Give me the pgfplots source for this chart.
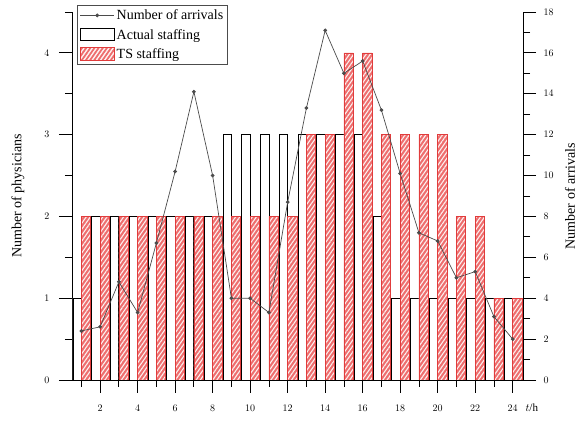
\documentclass[border=0pt]{standalone}
\usepackage{fontspec}
\setmainfont{Liberation Serif}
\usepackage{pgfplots}
\usepackage{pgfplotstable}
\pgfplotsset{compat=1.18}
\usetikzlibrary{patterns.meta}

\definecolor{tsred}{RGB}{225,60,60}
\definecolor{tsfill}{RGB}{238,110,110}
\definecolor{arrgray}{RGB}{75,75,75}

\pgfplotstableread{
h actual ts arrivals
1 1 2 2.4
2 2 2 2.6
3 2 2 4.8
4 2 2 3.3
5 2 2 6.7
6 2 2 10.2
7 2 2 14.1
8 2 2 10.0
9 3 2 4.0
10 3 2 4.0
11 3 2 3.3
12 3 2 8.7
13 3 3 13.3
14 3 3 17.1
15 3 4 15.0
16 3 4 15.6
17 2 3 13.2
18 1 3 10.1
19 1 3 7.2
20 1 3 6.8
21 1 2 5.0
22 1 2 5.3
23 1 1 3.1
24 1 1 2.0
}\datatable

\tikzset{
  tshatch/.style={draw=tsred, fill=tsfill, line width=0.7pt,
    postaction={pattern={Lines[angle=55, distance=3.4pt, line width=1.1pt]}, pattern color=white!90!tsfill}},
}
\pgfplotsset{
  common/.style={
    scale only axis,
    width=451pt, height=368pt,
    xmin=0.5, xmax=24.55,
    every tick/.style={black, line width=0.8pt},
    every minor tick/.style={black, line width=0.8pt},
    axis line style={black, line width=0.8pt},
    tick label style={font=\fontsize{10}{12}\selectfont},
    label style={font=\fontsize{14}{16}\selectfont},
  },
  ticks out/.style={
    tick align=outside,
    major tick length=13pt,
    minor tick length=7pt,
  },
  arrlegend/.style={legend image code/.code={
    \draw[arrgray, line width=0.7pt] (0pt,0pt) -- (34pt,0pt);
    \fill[arrgray] (17pt,0pt) circle[radius=1.6pt];}},
  actlegend/.style={legend image code/.code={\draw[draw=black, fill=white, line width=0.9pt] (0pt,-6pt) rectangle (34pt,6.5pt);}},
  tslegend/.style={legend image code/.code={\draw[tshatch] (0pt,-6pt) rectangle (34pt,6.5pt);}},
}

\begin{document}
\begin{tikzpicture}
\begin{axis}[
  common,
  name=ax,
  ybar,
  ymin=0, ymax=4.5,
  axis x line*=bottom,
  axis y line*=left,
  ticks out,
  xtick={2,4,...,24},
  minor xtick={1,3,...,23},
  ytick={0,1,2,3,4},
  minor ytick={0.5,1.5,2.5,3.5,4.5},
  xticklabel style={yshift=-9pt},
  yticklabel style={xshift=-6pt},
  ylabel={Number of physicians},
  ylabel style={at={(axis description cs:0,0.5)}, anchor=center, yshift=54pt},
  xlabel={$t$/h},
  xlabel style={at={(axis description cs:1,0)}, anchor=west, yshift=-28pt, xshift=-1pt, font=\fontsize{11}{13}\selectfont},
  legend style={at={(rel axis cs:0,1)}, anchor=north west, xshift=5pt, yshift=7pt,
    draw=black!70, line width=0.6pt, fill=white,
    font=\fontsize{14}{16}\selectfont, row sep=4pt, inner sep=2.5pt},
  legend cell align=left,
]
\addlegendimage{arrgray, arrlegend}
\addlegendentry{Number of arrivals}
\addplot[draw=black, fill=white, line width=0.8pt, bar width=0.45, bar shift=-0.225, actlegend]
  table[x=h, y=actual]{\datatable};
\addlegendentry{Actual staffing}
\addplot[tshatch, bar width=0.5, bar shift=0.25, tslegend]
  table[x=h, y=ts]{\datatable};
\addlegendentry{TS staffing}
\end{axis}
\begin{axis}[
  common,
  ymin=0, ymax=18,
  axis y line*=right,
  axis x line=none,
  ticks out,
  ytick={0,2,...,18},
  minor ytick={1,3,...,17},
  yticklabel style={xshift=4pt},
  ylabel={Number of arrivals},
  ylabel style={at={(axis description cs:1,0.5)}, anchor=center, rotate=0, yshift=-47pt},
]
\addplot[arrgray, line width=0.7pt, mark=*, mark size=1.5pt] table[x=h, y=arrivals]{\datatable};
\end{axis}
\pgfresetboundingbox
\path[use as bounding box] ([shift={(-72pt,-43pt)}]ax.south west) rectangle ([shift={(61pt,12pt)}]ax.north east);
\end{tikzpicture}
\end{document}
